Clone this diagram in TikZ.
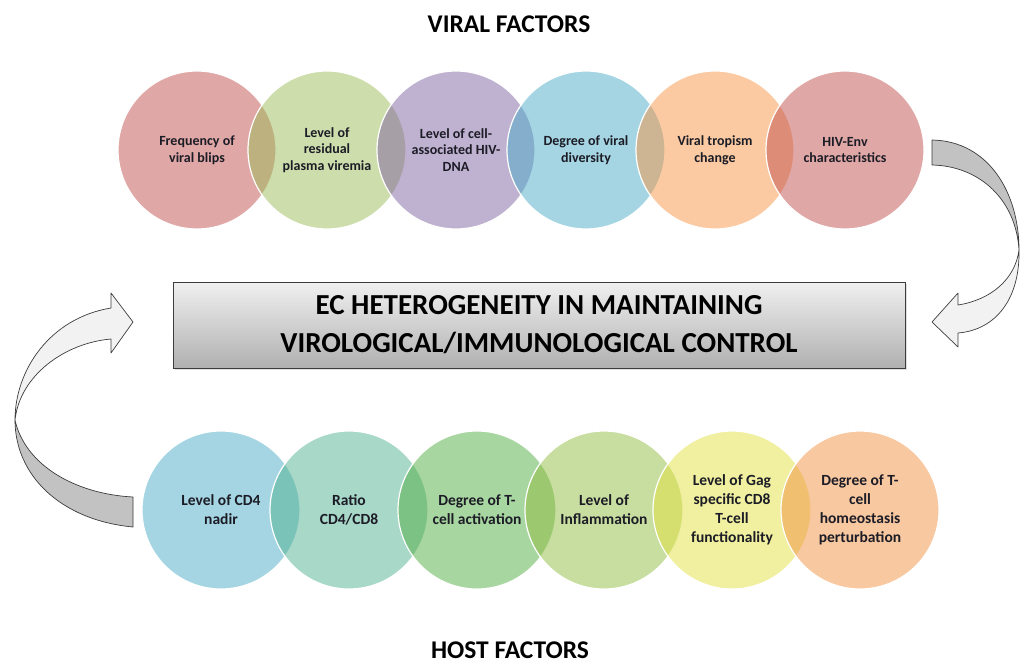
\documentclass[tikz,border=0pt]{standalone}
\usepackage{fontspec}
\setmainfont{Carlito}
\usetikzlibrary{shadows}

% Office-style accent colours (drawn at half opacity)
\definecolor{cred}{HTML}{C0504D}
\definecolor{cgreen}{HTML}{9BBB59}
\definecolor{cpurple}{HTML}{8064A2}
\definecolor{caqua}{HTML}{4BACC6}
\definecolor{corange}{HTML}{F79646}
\definecolor{hmint}{HTML}{51B191}
\definecolor{hgreen}{HTML}{51AD41}
\definecolor{hlime}{HTML}{91BD41}
\definecolor{hyellow}{HTML}{E1E141}
\definecolor{hpeach}{HTML}{F19141}
\definecolor{txt}{HTML}{1C1C26}
\definecolor{boxtop}{RGB}{240,240,240}
\definecolor{boxbot}{RGB}{176,176,176}
\definecolor{edge}{HTML}{3C3C3C}
\definecolor{ribbonlight}{RGB}{242,242,242}
\definecolor{ribbondark}{RGB}{194,194,194}

\begin{document}
\begin{tikzpicture}[x=1pt,y=-1pt,
  factor/.style={circle, minimum size=158pt, inner sep=0pt,
    fill opacity=0.5, text opacity=1, draw=white, line width=1.2pt,
    align=center, text=txt},
  viral/.style={factor, font=\bfseries\fontsize{14}{16.7}\selectfont},
  host/.style={factor, font=\bfseries\fontsize{15.5}{19}\selectfont},
  heading/.style={font=\bfseries\fontsize{25.5}{30}\selectfont, text=black, inner sep=1pt},
  mainbox/.style={draw=edge, line width=0.9pt, top color=boxtop, bottom color=boxbot,
    minimum width=732pt, minimum height=86pt, align=center, text=black,
    font=\bfseries\fontsize{29}{38}\selectfont,
    drop shadow={shadow xshift=2pt, shadow yshift=-2pt, opacity=0.25}},
  ribbon/.style={draw=edge, line width=0.7pt, line join=round}
]
\useasboundingbox (0,0) rectangle (1022,664);

% headings
\node[heading] (vt) at (509,24) {VIRAL FACTORS};
\node[heading] (ht) at (510,650) {HOST FACTORS};

% viral factors
\node[viral, fill=cred]    (v1) at (197,150) {Frequency of\\viral blips};
\node[viral, fill=cgreen]  (v2) at (327,150) {Level of\\residual\\plasma viremia};
\node[viral, fill=cpurple] (v3) at (456,150) {Level of cell-\\associated HIV-\\DNA};
\node[viral, fill=caqua]   (v4) at (586,150) {Degree of viral\\diversity};
\node[viral, fill=corange] (v5) at (715,150) {Viral tropism\\change};
\node[viral, fill=cred]    (v6) at (845,150) {HIV-Env\\characteristics};

% host factors
\node[host, fill=caqua]   (h1) at (221,510) {Level of CD4\\nadir};
\node[host, fill=hmint]   (h2) at (349,510) {Ratio\\CD4/CD8};
\node[host, fill=hgreen]  (h3) at (477,510) {Degree of T-\\cell activation};
\node[host, fill=hlime]   (h4) at (604,510) {Level of\\Inflammation};
\node[host, fill=hyellow] (h5) at (732,510) {Level of Gag\\specific CD8\\T-cell\\functionality};
\node[host, fill=hpeach]  (h6) at (860,510) {Degree of T-\\cell\\homeostasis\\perturbation};

% central statement
\node[mainbox] (box) at (539,325) {EC HETEROGENEITY IN MAINTAINING\\VIROLOGICAL/IMMUNOLOGICAL CONTROL};

% right ribbon arrow: from the viral factors down to the box
\path[ribbon, fill=ribbondark]
  (932,140) .. controls (988,141) and (1019,192) .. (1019,250)
  .. controls (1016,200) and (980,166) .. (932,165) -- cycle;
\path[ribbon, fill=ribbonlight]
  (1019,250) .. controls (1020,300) and (995,330) .. (958,333)
  -- (958,347) -- (932,322) -- (958,293) -- (958,305)
  .. controls (990,300) and (1015,280) .. (1019,250) -- cycle;

% left ribbon arrow: from the host factors up to the box
\path[ribbon, fill=ribbondark]
  (15,420) .. controls (15,475) and (60,520) .. (133,527)
  -- (133,497) .. controls (75,494) and (25,465) .. (15,420) -- cycle;
\path[ribbon, fill=ribbonlight]
  (15,420) .. controls (15,370) and (50,318) .. (111,308)
  -- (111,293) -- (133,322) -- (111,353) -- (111,339)
  .. controls (65,343) and (20,375) .. (15,420) -- cycle;
\end{tikzpicture}
\end{document}
